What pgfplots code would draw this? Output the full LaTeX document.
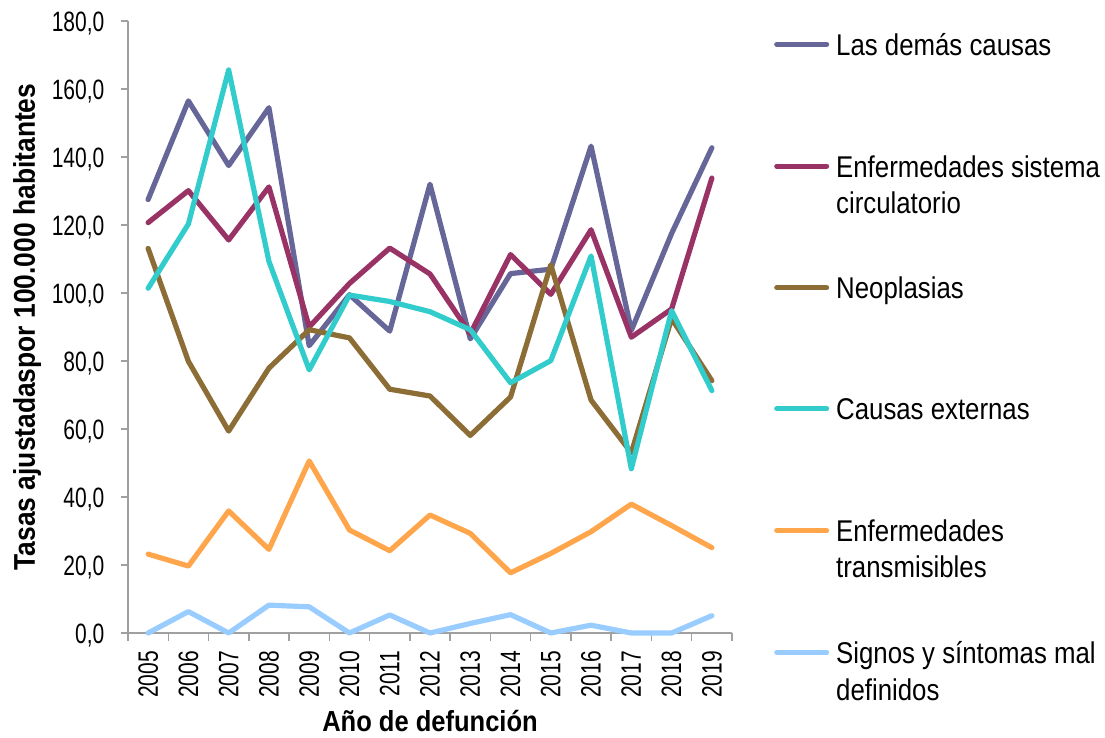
\documentclass[border=0pt]{standalone}
\usepackage{fontspec}
\setmainfont{Liberation Sans}
\newfontfamily\tickfont[FakeStretch=0.75]{Liberation Sans}
\newfontfamily\legfont[FakeStretch=0.86]{Liberation Sans}
\newfontfamily\labfont[FakeStretch=0.88]{Liberation Sans}
\usepackage{pgfplots}
\pgfplotsset{compat=1.18}

\definecolor{cdemas}{HTML}{666699}
\definecolor{ccirc}{HTML}{993366}
\definecolor{cneo}{HTML}{8C6D35}
\definecolor{cext}{HTML}{33CCCC}
\definecolor{ctrans}{HTML}{FFA64D}
\definecolor{csign}{HTML}{99CCFF}
\definecolor{axgray}{HTML}{A0A0A0}

% legend cell: fixed row pitch, baseline on the first line
\newcommand\legtext[1]{\rule[-100pt]{0pt}{116pt}\parbox[t]{320pt}{\legfont\fontsize{30}{36.5}\selectfont #1}}

\begin{document}
\begin{tikzpicture}
\begin{axis}[
  width=604pt, height=612pt, scale only axis,
  xmin=2004.5, xmax=2019.5, ymin=0, ymax=180,
  axis x line*=bottom, axis y line*=left,
  axis line style={-, draw=axgray, line width=1.5pt},
  tick pos=left, tick align=outside,
  major tick length=7.5pt,
  tick style={draw=axgray, line width=1.5pt},
  xtick={2004.5,2005.5,...,2019.5}, xticklabels={},
  extra x ticks={2005,2006,2007,2008,2009,2010,2011,2012,2013,2014,2015,2016,2017,2018,2019},
  extra x tick labels={2005,2006,2007,2008,2009,2010,2011,2012,2013,2014,2015,2016,2017,2018,2019},
  extra x tick style={major tick length=0pt},
  xticklabel style={font=\tickfont\fontsize{28}{30}\selectfont, rotate=90, anchor=east, inner sep=0pt},
  xticklabel shift=18pt,
  ytick={0,20,...,180},
  yticklabel style={font=\tickfont\fontsize{28}{30}\selectfont, anchor=east, inner sep=0pt, xshift=-16pt, yshift=-3pt,
    /pgf/number format/.cd, fixed, fixed zerofill, precision=1, use comma, assume math mode=true},
  ylabel={Tasas ajustadaspor 100.000 habitantes},
  ylabel style={font=\labfont\bfseries\fontsize{30}{32}\selectfont, at={(axis description cs:-0.154,0.5)}, anchor=base},
  xlabel={Año de defunción},
  xlabel style={font=\labfont\bfseries\fontsize{29}{32}\selectfont, at={(axis description cs:0.5,0)}, anchor=base, yshift=-98pt},
  clip=false,
  every axis plot/.append style={line width=5.2pt, line join=round, line cap=round},
  legend image code/.code={%
    \pgfpathmoveto{\pgfpoint{0pt}{0pt}}\pgfpathlineto{\pgfpoint{55pt}{0pt}}\pgfusepath{}%
    \draw[line width=5pt, line cap=round] (2.5pt,11pt) -- (52.5pt,11pt);},
  legend style={at={(1.0695,0.9804)}, anchor=north west, draw=none, fill=none, inner sep=0pt,
    row sep=0pt, column sep=7pt,
    nodes={inner sep=0pt, text depth=, text height=, anchor=base west},
    cells={anchor=base west}},
]
\addplot[cdemas] coordinates {(2005,127.5) (2006,156.5) (2007,137.5) (2008,154.5) (2009,84.5) (2010,99.5) (2011,88.8) (2012,132.0) (2013,86.5) (2014,105.7) (2015,107.0) (2016,143.2) (2017,89.0) (2018,117.5) (2019,142.7)};
\addlegendentry{\legtext{Las demás causas}}
\addplot[ccirc] coordinates {(2005,120.7) (2006,130.1) (2007,115.6) (2008,131.2) (2009,90.0) (2010,102.8) (2011,113.2) (2012,105.6) (2013,88.0) (2014,111.3) (2015,99.6) (2016,118.6) (2017,87.0) (2018,95.3) (2019,133.8)};
\addlegendentry{\legtext{Enfermedades sistema\\circulatorio}}
\addplot[cneo] coordinates {(2005,113.1) (2006,79.9) (2007,59.4) (2008,77.9) (2009,89.2) (2010,86.8) (2011,71.7) (2012,69.7) (2013,58.1) (2014,69.4) (2015,108.3) (2016,68.5) (2017,53.0) (2018,92.5) (2019,74.2)};
\addlegendentry{\legtext{Neoplasias}}
\addplot[cext] coordinates {(2005,101.4) (2006,120.3) (2007,165.6) (2008,109.3) (2009,77.4) (2010,99.4) (2011,97.5) (2012,94.5) (2013,89.2) (2014,73.6) (2015,80.1) (2016,110.9) (2017,48.3) (2018,94.8) (2019,71.3)};
\addlegendentry{\legtext{Causas externas}}
\addplot[ctrans] coordinates {(2005,23.2) (2006,19.7) (2007,35.9) (2008,24.6) (2009,50.6) (2010,30.3) (2011,24.2) (2012,34.7) (2013,29.3) (2014,17.7) (2015,23.4) (2016,29.8) (2017,37.9) (2018,31.6) (2019,25.1)};
\addlegendentry{\legtext{Enfermedades\\transmisibles}}
\addplot[csign] coordinates {(2005,0) (2006,6.3) (2007,0) (2008,8.2) (2009,7.7) (2010,0) (2011,5.3) (2012,0) (2013,2.8) (2014,5.4) (2015,0) (2016,2.3) (2017,0) (2018,0) (2019,5.1)};
\addlegendentry{\legtext{Signos y síntomas mal\\definidos}}
\end{axis}
\pgfresetboundingbox
\path[use as bounding box] (-128pt,-104pt) rectangle (977pt,633pt);
\end{tikzpicture}
\end{document}
